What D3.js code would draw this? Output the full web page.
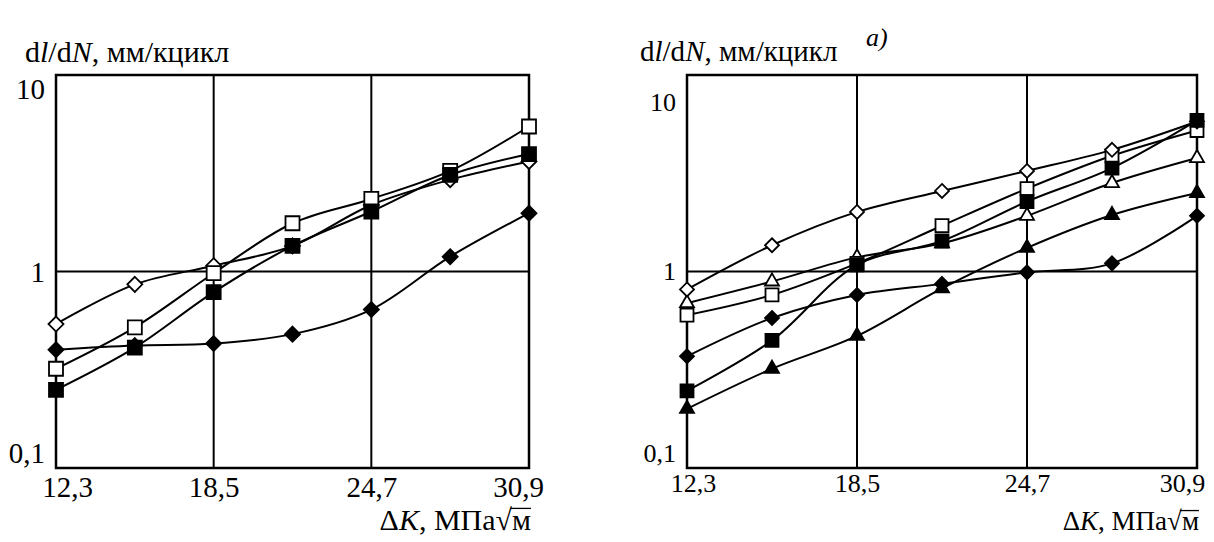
<!DOCTYPE html>
<html>
<head>
<meta charset="utf-8">
<script src="https://cdn.jsdelivr.net/npm/d3@7"></script>
<style>
  body { margin: 0; background: #fff; }
  svg { display: block; }
  text { font-family: "Liberation Serif", "Times New Roman", serif; fill: #000; }
</style>
</head>
<body>
<svg id="chart" width="1214" height="542"></svg>
<script>
// ΔK values where points were measured
const dK = [12.3, 15.4, 18.5, 21.6, 24.7, 27.8, 30.9];
const xTicks = [12.3, 18.5, 24.7, 30.9];
const xTickLabels = ['12,3', '18,5', '24,7', '30,9'];
const yTicks = [0.1, 1, 10];
const yTickLabels = ['0,1', '1', '10'];

// left chart, dl/dN in mm/kcycle
const leftOpenDiamond = [0.54, 0.86, 1.07, 1.35, 2.18, 2.93, 3.63];
const leftFilledDiamond = [0.40, 0.42, 0.43, 0.48, 0.64, 1.19, 1.98];
const leftOpenSquare = [0.32, 0.52, 0.98, 1.76, 2.34, 3.25, 5.47];
const leftFilledSquare = [0.25, 0.41, 0.785, 1.35, 2.02, 3.1, 3.96];

// right chart (a)
const rightOpenDiamond = [0.81, 1.36, 2.01, 2.57, 3.25, 4.16, 5.8];
const rightOpenSquare = [0.60, 0.76, 1.10, 1.71, 2.64, 3.88, 5.22];
const rightOpenTriangle = [0.69, 0.89, 1.18, 1.39, 1.92, 2.82, 3.78];
const rightFilledSquare = [0.247, 0.446, 1.08, 1.43, 2.27, 3.36, 5.87];
const rightFilledDiamond = [0.37, 0.58, 0.76, 0.865, 0.99, 1.10, 1.92];
const rightFilledTriangle = [0.20, 0.32, 0.47, 0.82, 1.32, 1.94, 2.51];

const svg = d3.select('#chart');

const markerPath = (shape, s) => {
  if (shape === 'square') return d3.symbol(d3.symbolSquare, s * s)();
  if (shape === 'triangle') return d3.symbol(d3.symbolTriangle, s * s * 0.5)();
  // diamond = square turned 45 deg, s is the diagonal
  const h = s / 2;
  return `M0,${-h}L${h},0L0,${h}L${-h},0Z`;
};

function drawPanel(p, series) {
  const g = svg.append('g');

  const x = d3.scaleLinear().domain([12.3, 30.9]).range([p.x0, p.x1]);
  const y = d3.scaleLog().domain([0.1, 10]).range([p.y1, p.y0]);

  // grid
  g.selectAll('.vgrid')
    .data([18.5, 24.7])
    .enter().append('line')
    .attr('x1', d => x(d)).attr('x2', d => x(d))
    .attr('y1', p.y0).attr('y2', p.y1)
    .attr('stroke', '#000').attr('stroke-width', 2);
  g.append('line')
    .attr('x1', p.x0).attr('x2', p.x1)
    .attr('y1', y(1)).attr('y2', y(1))
    .attr('stroke', '#000').attr('stroke-width', 2);
  g.append('rect')
    .attr('x', p.x0).attr('y', p.y0)
    .attr('width', p.x1 - p.x0).attr('height', p.y1 - p.y0)
    .attr('fill', 'none').attr('stroke', '#000').attr('stroke-width', 2.5);

  // x tick labels
  const xa = g.append('g')
    .attr('transform', `translate(0,${p.y1})`)
    .call(d3.axisBottom(x).tickValues(xTicks).tickSize(0)
      .tickFormat((d, i) => xTickLabels[i]));
  xa.select('.domain').remove();
  xa.selectAll('text')
    .attr('y', p.xLabelY).attr('dy', 0)
    .attr('dx', (d, i) => p.xLabelDx[i])
    .style('font-size', p.fs + 'px')
    .style('font-family', '"Liberation Serif", serif');

  // y tick labels
  const ya = g.append('g')
    .attr('transform', `translate(${p.x0},0)`)
    .call(d3.axisLeft(y).tickValues(yTicks).tickSize(0)
      .tickFormat((d, i) => yTickLabels[i]));
  ya.select('.domain').remove();
  ya.selectAll('text')
    .attr('x', -p.yLabelGap).attr('dy', 0)
    .attr('y', (d, i) => p.yLabelDy[i])
    .style('font-size', p.fs + 'px')
    .style('font-family', '"Liberation Serif", serif');

  const line = d3.line()
    .x((d, i) => x(dK[i]))
    .y(d => y(d))
    .curve(d3.curveCatmullRom.alpha(0.5));

  series.forEach(s => {
    g.append('path')
      .datum(s.values)
      .attr('d', line)
      .attr('fill', 'none')
      .attr('stroke', '#000')
      .attr('stroke-width', 2);
  });
  series.forEach(s => {
    g.selectAll(null)
      .data(s.values)
      .enter().append('path')
      .attr('transform', (d, i) => `translate(${x(dK[i])},${y(d)})`)
      .attr('d', markerPath(s.shape, s.shape === 'diamond' ? p.ms + 1 : p.ms))
      .attr('fill', s.filled ? '#000' : '#fff')
      .attr('stroke', '#000')
      .attr('stroke-width', 1.8);
  });

  // y title
  const yt = g.append('text')
    .attr('x', p.titleX).attr('y', p.titleY)
    .style('font-size', p.titleFs + 'px');
  yt.append('tspan').text('d');
  yt.append('tspan').text('l').style('font-style', 'italic');
  yt.append('tspan').text('/d');
  yt.append('tspan').text('N').style('font-style', 'italic');
  yt.append('tspan').text(', мм/кцикл');

  // x title, right aligned, with a root sign over "м"
  const m = g.append('text')
    .attr('x', p.x1 + 2).attr('y', p.xTitleY)
    .attr('text-anchor', 'end')
    .style('font-size', p.xTitleFs + 'px')
    .text('м');
  const mw = m.node().getComputedTextLength();
  const xt = g.append('text')
    .attr('x', p.x1 + 2 - mw).attr('y', p.xTitleY)
    .attr('text-anchor', 'end')
    .style('font-size', p.xTitleFs + 'px');
  xt.append('tspan').text('Δ');
  xt.append('tspan').text('K').style('font-style', 'italic');
  xt.append('tspan').text(', МПа√');
  g.append('line')
    .attr('x1', p.x1 + 2 - mw - 2).attr('x2', p.x1 + 2)
    .attr('y1', p.xTitleY - p.xTitleFs * 0.72)
    .attr('y2', p.xTitleY - p.xTitleFs * 0.72)
    .attr('stroke', '#000').attr('stroke-width', 1.3);
}

drawPanel({
  x0: 56, x1: 529, y0: 75, y1: 468,
  fs: 29, titleFs: 30, xTitleFs: 30, ms: 14,
  xLabelY: 29, xLabelDx: [11, 0, 0, -11],
  yLabelGap: 11, yLabelDy: [-6, 10, 23],
  titleX: 25, titleY: 62, xTitleY: 530
}, [
  { values: leftFilledDiamond, shape: 'diamond', filled: true },
  { values: leftOpenDiamond, shape: 'diamond', filled: false },
  { values: leftOpenSquare, shape: 'square', filled: false },
  { values: leftFilledSquare, shape: 'square', filled: true }
]);

drawPanel({
  x0: 687, x1: 1197, y0: 75, y1: 468,
  fs: 26, titleFs: 29, xTitleFs: 27, ms: 13,
  xLabelY: 24, xLabelDx: [6, 0, 0, -15],
  yLabelGap: 11, yLabelDy: [-7, 8, 35],
  titleX: 640, titleY: 61, xTitleY: 530
}, [
  { values: rightFilledDiamond, shape: 'diamond', filled: true },
  { values: rightFilledTriangle, shape: 'triangle', filled: true },
  { values: rightOpenTriangle, shape: 'triangle', filled: false },
  { values: rightOpenSquare, shape: 'square', filled: false },
  { values: rightOpenDiamond, shape: 'diamond', filled: false },
  { values: rightFilledSquare, shape: 'square', filled: true }
]);

svg.append('text')
  .attr('x', 866).attr('y', 46)
  .style('font-size', '26px')
  .style('font-style', 'italic')
  .text('a)');
</script>
</body>
</html>
